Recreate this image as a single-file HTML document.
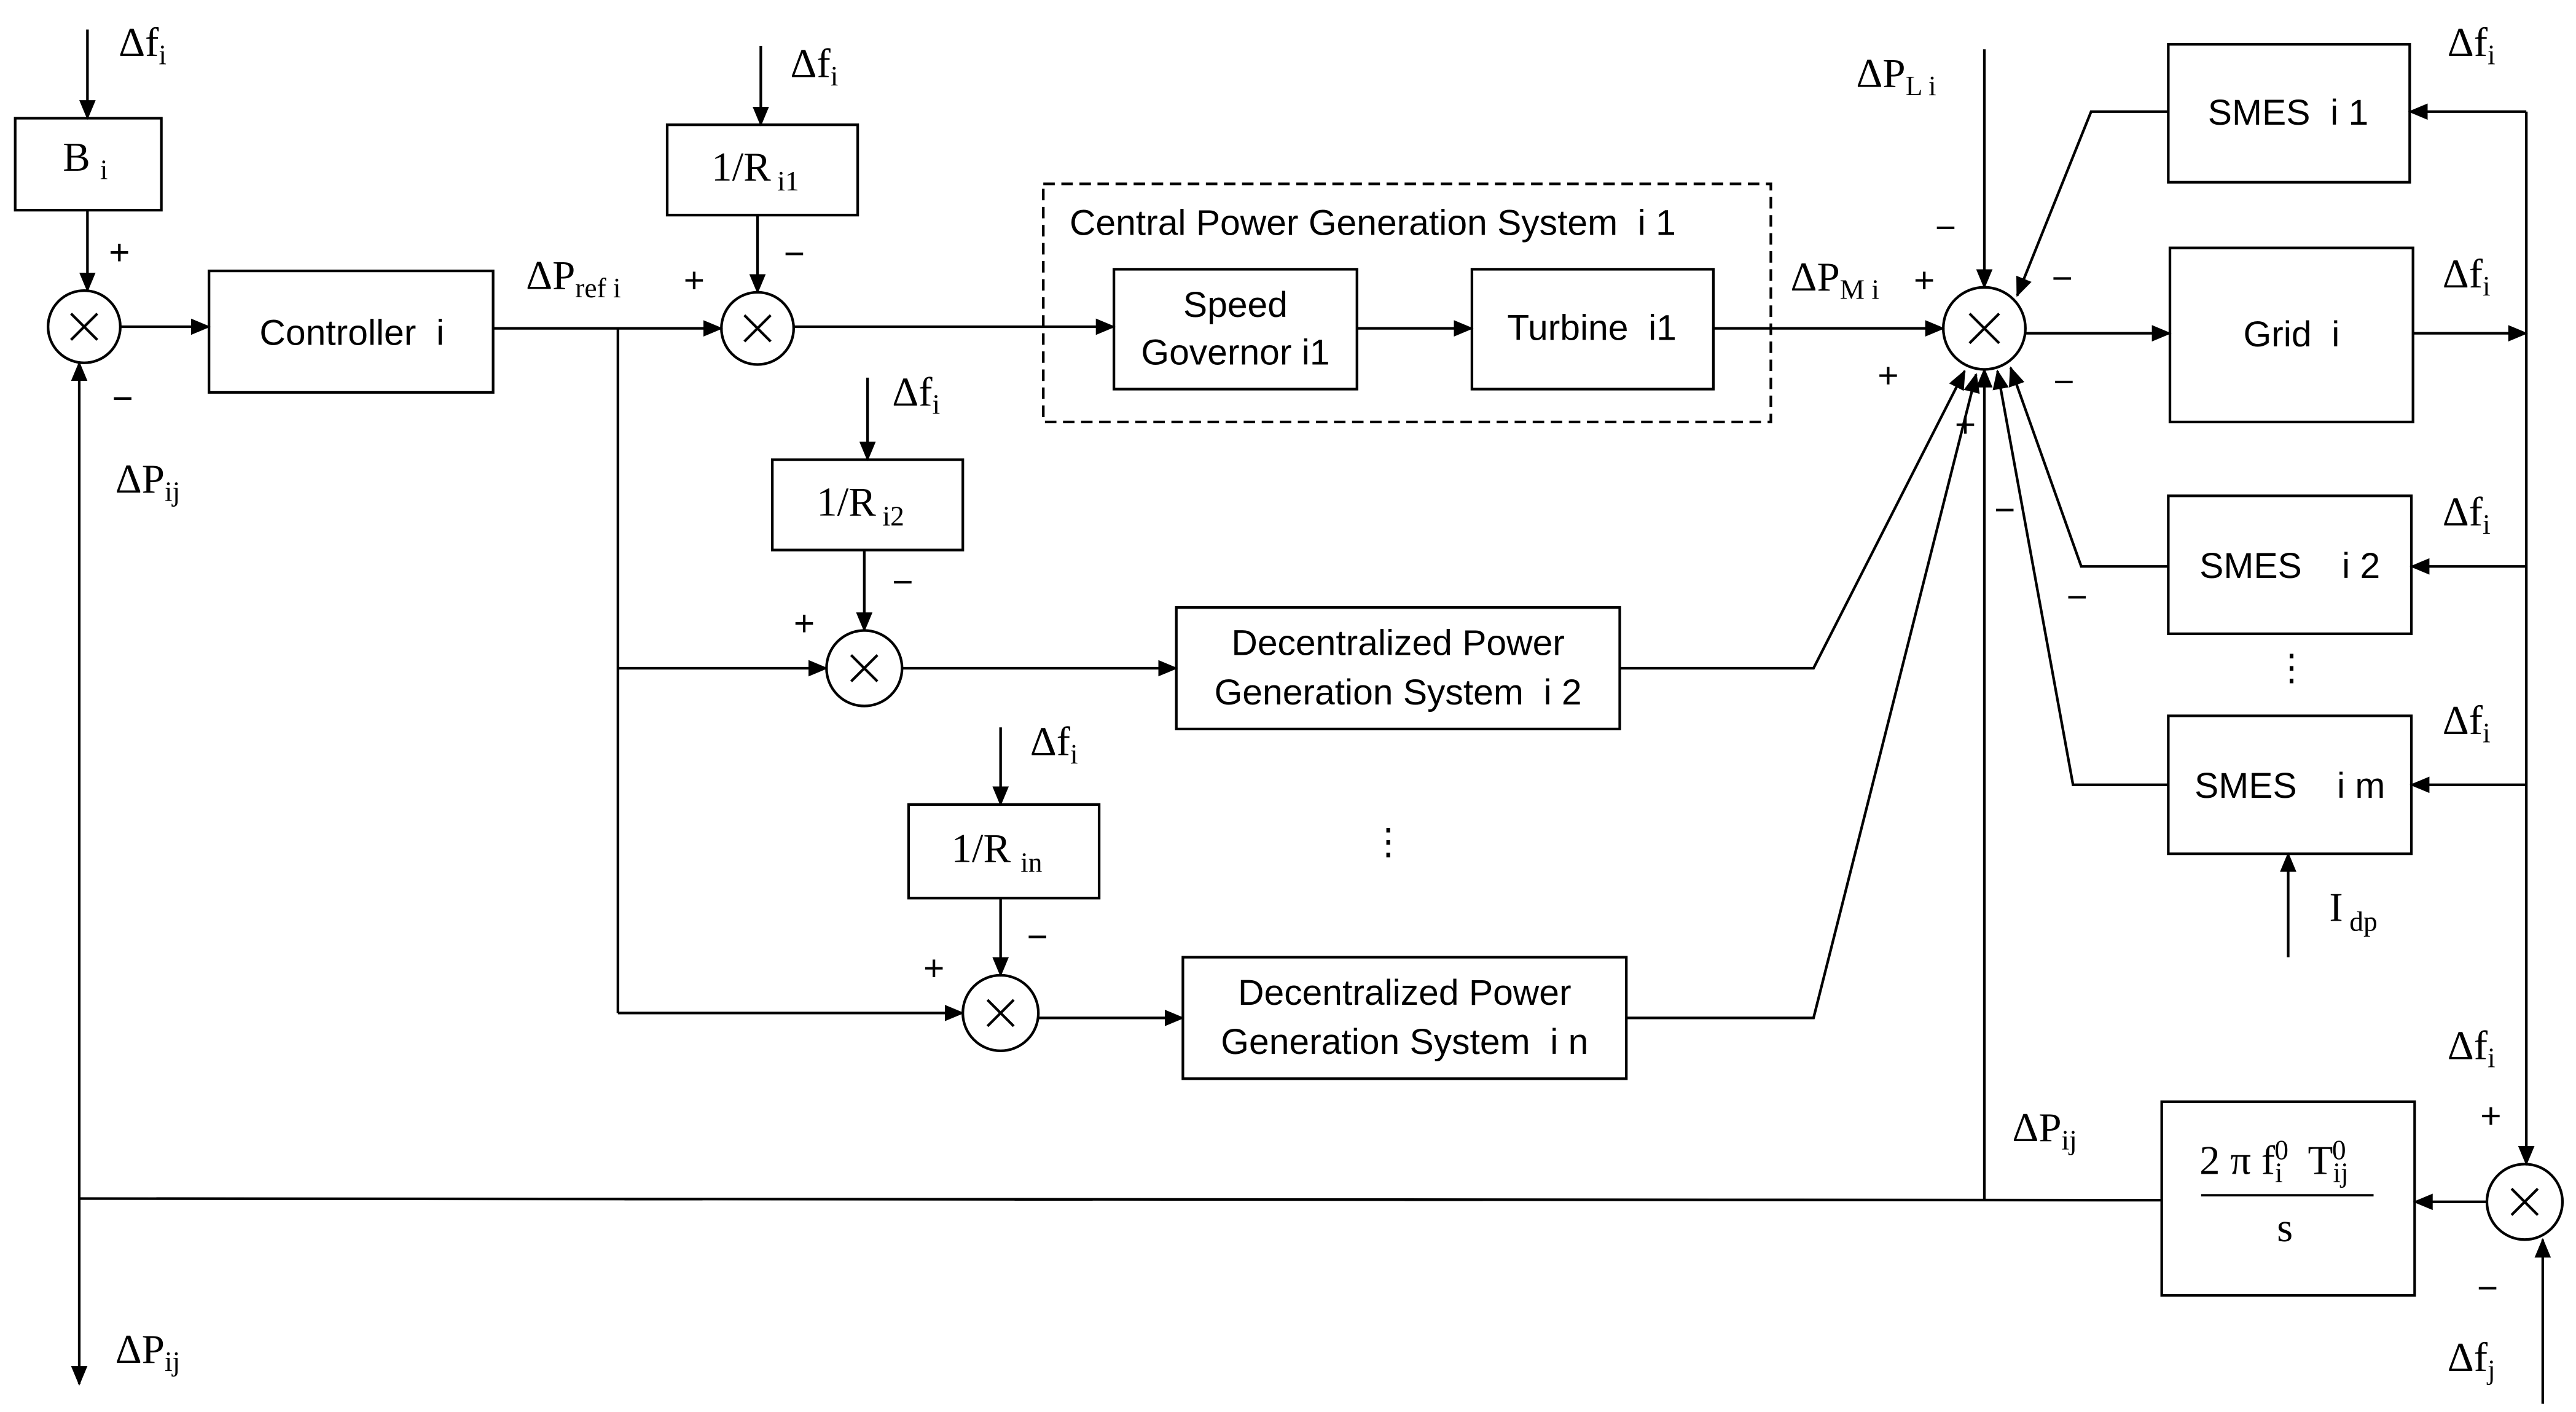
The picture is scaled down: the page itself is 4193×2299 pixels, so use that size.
<!DOCTYPE html>
<html><head><meta charset="utf-8"><style>
html,body{margin:0;padding:0;background:#fff;}
svg{display:block;}
text{white-space:pre;}
.s{font-family:"Liberation Sans",sans-serif;font-size:22px;fill:#000;}
.m{font-family:"Liberation Serif",serif;font-size:25px;fill:#000;}
.sub{font-size:17px;}
</style></head><body>
<svg width="4193" height="2299" viewBox="0 0 1568 860" xmlns="http://www.w3.org/2000/svg">
<defs><marker id="a" markerWidth="12" markerHeight="10" refX="11" refY="5" orient="auto" markerUnits="userSpaceOnUse"><path d="M0,0 L12,5 L0,10 z" fill="#000"/></marker></defs>
<g stroke="#000" stroke-width="1.6" fill="none">
<rect x="9" y="72" width="89" height="56"/>
<rect x="127" y="165" width="173" height="74"/>
<rect x="406" y="76" width="116" height="55"/>
<rect x="635" y="112" width="443" height="145" stroke-dasharray="7,4"/>
<rect x="678" y="164" width="148" height="73"/>
<rect x="896" y="164" width="147" height="73"/>
<rect x="1320" y="27" width="147" height="84"/>
<rect x="1321" y="151" width="148" height="106"/>
<rect x="1320" y="302" width="148" height="84"/>
<rect x="1320" y="436" width="148" height="84"/>
<rect x="470" y="280" width="116" height="55"/>
<rect x="716" y="370" width="270" height="74"/>
<rect x="553" y="490" width="116" height="57"/>
<rect x="720" y="583" width="270" height="74"/>
<rect x="1316" y="671" width="154" height="118"/>
<circle cx="51" cy="199" r="22"/><path d="M43,191 L59,207 M59,191 L43,207"/>
<circle cx="461" cy="200" r="22"/><path d="M453,192 L469,208 M469,192 L453,208"/>
<circle cx="1208" cy="200" r="25"/><path d="M1199,191 L1217,209 M1217,191 L1199,209"/>
<circle cx="526" cy="407" r="23"/><path d="M518,399 L534,415 M534,399 L518,415"/>
<circle cx="609" cy="617" r="23"/><path d="M601,609 L617,625 M617,609 L601,625"/>
<circle cx="1537" cy="732" r="23"/><path d="M1529,724 L1545,740 M1545,724 L1529,740"/>
<path d="M53,18 L53,72" marker-end="url(#a)"/>
<path d="M53,128 L53,177" marker-end="url(#a)"/>
<path d="M73,199 L127,199" marker-end="url(#a)"/>
<path d="M300,200 L439,200" marker-end="url(#a)"/>
<path d="M463,28 L463,76" marker-end="url(#a)"/>
<path d="M461,131 L461,178" marker-end="url(#a)"/>
<path d="M483,199 L678,199" marker-end="url(#a)"/>
<path d="M826,200 L896,200" marker-end="url(#a)"/>
<path d="M1043,200 L1183,200" marker-end="url(#a)"/>
<path d="M1208,30 L1208,175" marker-end="url(#a)"/>
<path d="M1233,203 L1321,203" marker-end="url(#a)"/>
<path d="M1469,203 L1538,203" marker-end="url(#a)"/>
<path d="M1538,68 L1538,709" marker-end="url(#a)"/>
<path d="M1538,68 L1467,68" marker-end="url(#a)"/>
<path d="M1538,345 L1468,345" marker-end="url(#a)"/>
<path d="M1538,478 L1468,478" marker-end="url(#a)"/>
<path d="M1320,68 L1273,68 L1228,180" marker-end="url(#a)"/>
<path d="M1320,345 L1267,345 L1224,224" marker-end="url(#a)"/>
<path d="M1320,478 L1262,478 L1216,226" marker-end="url(#a)"/>
<path d="M1393,583 L1393,520" marker-end="url(#a)"/>
<path d="M528,230 L528,280" marker-end="url(#a)"/>
<path d="M526,335 L526,384" marker-end="url(#a)"/>
<path d="M376,200 L376,617"/>
<path d="M376,407 L503,407" marker-end="url(#a)"/>
<path d="M549,407 L716,407" marker-end="url(#a)"/>
<path d="M986,407 L1104,407 L1196,226" marker-end="url(#a)"/>
<path d="M609,443 L609,490" marker-end="url(#a)"/>
<path d="M609,547 L609,594" marker-end="url(#a)"/>
<path d="M376,617 L586,617" marker-end="url(#a)"/>
<path d="M632,620 L720,620" marker-end="url(#a)"/>
<path d="M990,620 L1104,620 L1203,228" marker-end="url(#a)"/>
<path d="M1548,855 L1548,755" marker-end="url(#a)"/>
<path d="M1514,732 L1470,732" marker-end="url(#a)"/>
<path d="M1316,731 L48,730"/>
<path d="M1208,731 L1208,225" marker-end="url(#a)"/>
<path d="M48,730 L48,221" marker-end="url(#a)"/>
<path d="M48,730 L48,843" marker-end="url(#a)"/>
<path d="M1340,728 L1445,728" stroke-width="1.4"/>
</g>
<g>
<text class="m" x="72" y="34">Δf<tspan class="sub" dy="5">i</tspan></text>
<text class="m" x="38" y="104">B<tspan class="sub" dx="6" dy="5">i</tspan></text>
<text class="s" x="66" y="161">+</text>
<text class="s" x="68" y="250">−</text>
<text class="m" x="70" y="300">ΔP<tspan class="sub" dy="5">ij</tspan></text>
<text class="m" x="70" y="830">ΔP<tspan class="sub" dy="5">ij</tspan></text>
<text class="s" x="214" y="210" text-anchor="middle">Controller  i</text>
<text class="m" x="320" y="176">ΔP<tspan class="sub" dy="5">ref i</tspan></text>
<text class="s" x="416" y="178">+</text>
<text class="m" x="481" y="47">Δf<tspan class="sub" dy="5">i</tspan></text>
<text class="m" x="433" y="110">1/R<tspan class="sub" dx="4" dy="6">i1</tspan></text>
<text class="s" x="477" y="162">−</text>
<text class="s" x="651" y="143">Central Power Generation System  i 1</text>
<text class="s" x="752" y="193" text-anchor="middle">Speed</text>
<text class="s" x="752" y="222" text-anchor="middle">Governor i1</text>
<text class="s" x="969" y="207" text-anchor="middle">Turbine  i1</text>
<text class="m" x="1090" y="177">ΔP<tspan class="sub" dy="5">M i</tspan></text>
<text class="s" x="1165" y="178">+</text>
<text class="m" x="1130" y="53">ΔP<tspan class="sub" dy="5">L i</tspan></text>
<text class="s" x="1178" y="146">−</text>
<text class="s" x="1143" y="236">+</text>
<text class="s" x="1190" y="266">+</text>
<text class="s" x="1214" y="318">−</text>
<text class="s" x="1249" y="177">−</text>
<text class="s" x="1250" y="240">−</text>
<text class="s" x="1258" y="371">−</text>
<text class="s" x="1393" y="76" text-anchor="middle">SMES  i 1</text>
<text class="s" x="1395" y="211" text-anchor="middle">Grid  i</text>
<text class="s" x="1394" y="352" text-anchor="middle">SMES    i 2</text>
<text class="s" x="1394" y="486" text-anchor="middle">SMES    i m</text>
<text class="s" x="1395" y="414" text-anchor="middle">⋮</text>
<text class="s" x="845" y="520" text-anchor="middle">⋮</text>
<text class="m" x="1490" y="34">Δf<tspan class="sub" dy="5">i</tspan></text>
<text class="m" x="1487" y="175">Δf<tspan class="sub" dy="5">i</tspan></text>
<text class="m" x="1487" y="320">Δf<tspan class="sub" dy="5">i</tspan></text>
<text class="m" x="1487" y="447">Δf<tspan class="sub" dy="5">i</tspan></text>
<text class="m" x="1418" y="561">I<tspan class="sub" dx="4" dy="6">dp</tspan></text>
<text class="m" x="543" y="247">Δf<tspan class="sub" dy="5">i</tspan></text>
<text class="m" x="497" y="314">1/R<tspan class="sub" dx="4" dy="6">i2</tspan></text>
<text class="s" x="543" y="362">−</text>
<text class="s" x="483" y="387">+</text>
<text class="s" x="851" y="399" text-anchor="middle">Decentralized Power</text>
<text class="s" x="851" y="429" text-anchor="middle">Generation System  i 2</text>
<text class="m" x="627" y="460">Δf<tspan class="sub" dy="5">i</tspan></text>
<text class="m" x="579" y="525">1/R<tspan class="sub" dx="6" dy="6">in</tspan></text>
<text class="s" x="625" y="578">−</text>
<text class="s" x="562" y="597">+</text>
<text class="s" x="855" y="612" text-anchor="middle">Decentralized Power</text>
<text class="s" x="855" y="642" text-anchor="middle">Generation System  i n</text>
<text class="m" x="1225" y="695">ΔP<tspan class="sub" dy="5">ij</tspan></text>
<text class="m" x="1490" y="645">Δf<tspan class="sub" dy="5">i</tspan></text>
<text class="s" x="1510" y="687">+</text>
<text class="s" x="1508" y="792">−</text>
<text class="m" x="1490" y="835">Δf<tspan class="sub" dy="5">j</tspan></text>
<text class="m" x="1339" y="715">2 π f<tspan class="sub" dy="5">i</tspan><tspan class="sub" dx="-5" dy="-14">0</tspan><tspan dx="6" dy="9"> T</tspan><tspan class="sub" dy="5">ij</tspan><tspan class="sub" dx="-10" dy="-14">0</tspan></text>
<text class="m" x="1391" y="756" text-anchor="middle">s</text>
</g>
</svg>
</body></html>
